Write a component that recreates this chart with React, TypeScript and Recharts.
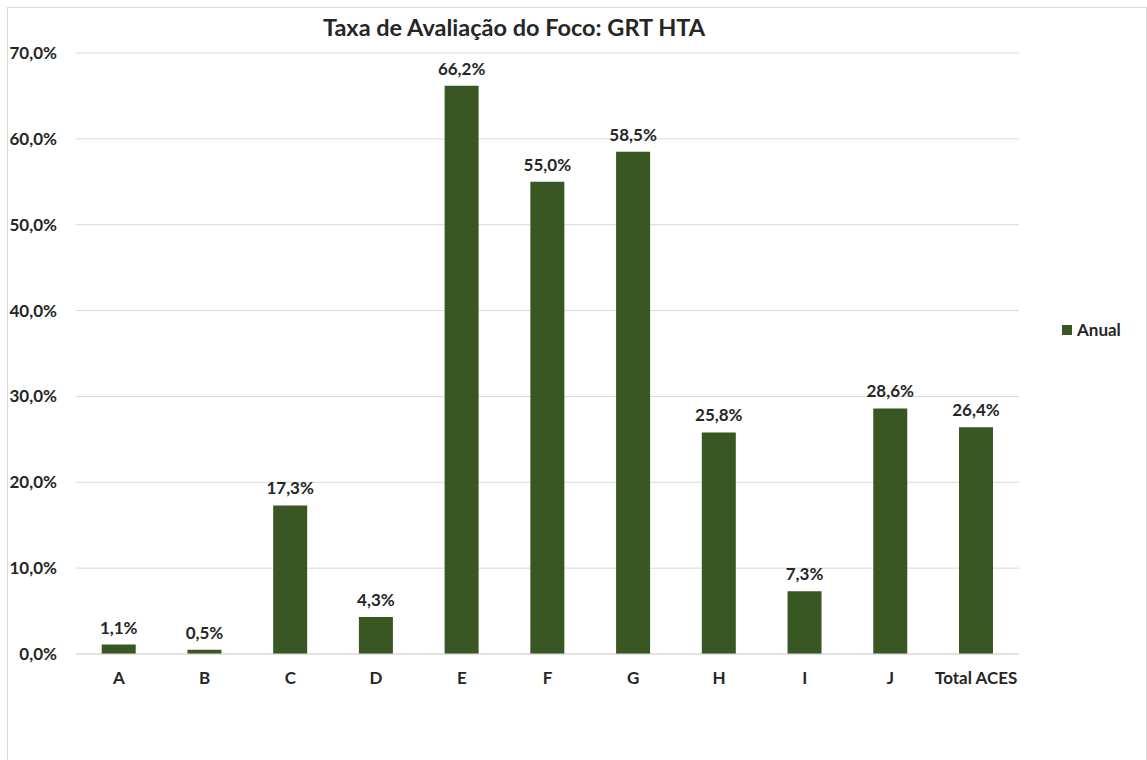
import { BarChart, Bar, XAxis, YAxis, CartesianGrid, LabelList } from 'recharts';

const categories = ['A', 'B', 'C', 'D', 'E', 'F', 'G', 'H', 'I', 'J', 'Total ACES'];
const anual = [1.1, 0.5, 17.3, 4.3, 66.2, 55.0, 58.5, 25.8, 7.3, 28.6, 26.4];
const yTicks = [0, 10, 20, 30, 40, 50, 60, 70];

const data = categories.map((name, i) => ({ name, anual: anual[i] }));

const FONT = 'Lato, "Open Sans", sans-serif';
const GREEN = '#385723';
const TEXT = '#262626';

const pct = (v: number) => `${v.toFixed(1).replace('.', ',')}%`;
const textStyle = { fill: TEXT, fontSize: 17, fontWeight: 700, fontFamily: FONT };

export default function App() {
    return (
        <div
            style={{
                position: 'absolute',
                left: 7,
                top: 7,
                width: 1141,
                height: 760,
                border: '1px solid #d9d9d9',
                borderRight: '2px solid #d9d9d9',
                boxSizing: 'border-box',
                background: '#fff',
            }}
        >
            <div
                style={{
                    position: 'absolute',
                    left: 0,
                    top: 5,
                    width: 1012,
                    textAlign: 'center',
                    fontFamily: FONT,
                    fontWeight: 700,
                    fontSize: 23.5,
                    color: TEXT,
                }}
            >
                Taxa de Avaliação do Foco: GRT HTA
            </div>
            {/* legend sits to the right of the plot, outside the chart layout */}
            <div
                style={{
                    position: 'absolute',
                    left: 1054,
                    top: 311,
                    display: 'flex',
                    alignItems: 'center',
                    fontFamily: FONT,
                    fontWeight: 700,
                    fontSize: 17,
                    color: TEXT,
                }}
            >
                <span style={{ width: 10, height: 10, background: GREEN, marginRight: 5, display: 'inline-block' }} />
                Anual
            </div>
            <BarChart
                width={1138}
                height={751}
                data={data}
                margin={{ top: 45, right: 127, left: 0, bottom: 75 }}
                barCategoryGap="30%"
            >
                <CartesianGrid vertical={false} stroke="#d9d9d9" />
                <XAxis
                    dataKey="name"
                    axisLine={{ stroke: '#d9d9d9' }}
                    tickLine={false}
                    tickMargin={12}
                    height={30}
                    tick={textStyle}
                    interval={0}
                />
                <YAxis
                    width={68}
                    domain={[0, 70]}
                    ticks={yTicks}
                    tickFormatter={pct}
                    axisLine={false}
                    tickLine={false}
                    tickMargin={13}
                    tick={textStyle}
                />
                <Bar dataKey="anual" name="Anual" fill={GREEN} isAnimationActive={false}>
                    <LabelList
                        dataKey="anual"
                        position="top"
                        offset={11}
                        formatter={(v: any) => pct(Number(v))}
                        style={textStyle}
                    />
                </Bar>
            </BarChart>
        </div>
    );
}
